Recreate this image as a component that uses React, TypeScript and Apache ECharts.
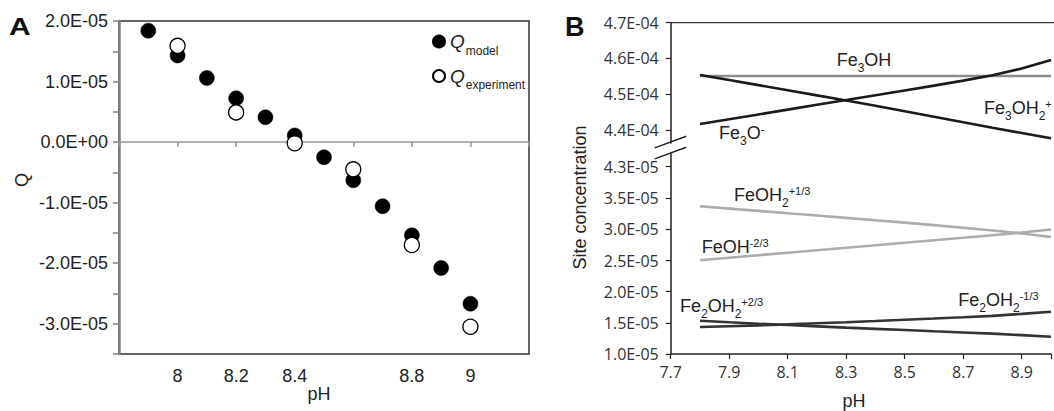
import React, { useEffect, useRef } from "react";
import * as echarts from "echarts";

// ---------- Panel A data ----------
const pHModel = [7.9, 8.0, 8.1, 8.2, 8.3, 8.4, 8.5, 8.6, 8.7, 8.8, 8.9, 9.0];
const qModel = [1.84e-5, 1.43e-5, 1.06e-5, 0.725e-5, 0.41e-5, 0.11e-5, -0.25e-5, -0.63e-5, -1.06e-5, -1.54e-5, -2.08e-5, -2.67e-5];
const pHExp = [8.0, 8.2, 8.4, 8.6, 8.8, 9.0];
const qExp = [1.59e-5, 0.49e-5, -0.02e-5, -0.45e-5, -1.7e-5, -3.05e-5];

// ---------- Panel B data (values in units of 1E-05) ----------
const pHB = [7.8, 7.9, 8.0, 8.1, 8.2, 8.3, 8.4, 8.5, 8.6, 8.7, 8.8, 8.9, 9.0];
const fe3OH_e5 = [45.51, 45.51, 45.51, 45.51, 45.51, 45.51, 45.51, 45.51, 45.51, 45.51, 45.51, 45.51, 45.51];
const fe3OH2plus_e5 = [45.536, 45.397, 45.254, 45.112, 44.969, 44.827, 44.676, 44.522, 44.369, 44.215, 44.064, 43.916, 43.768];
const fe3Ominus_e5 = [44.168, 44.302, 44.436, 44.57, 44.704, 44.838, 44.972, 45.106, 45.24, 45.38, 45.531, 45.718, 45.955];
const feOH2_e5 = [3.372, 3.335, 3.298, 3.261, 3.224, 3.186, 3.147, 3.109, 3.069, 3.027, 2.984, 2.936, 2.88];
const feOH_e5 = [2.506, 2.546, 2.587, 2.627, 2.667, 2.707, 2.747, 2.787, 2.827, 2.867, 2.907, 2.95, 2.998];
const fe2OH2plus_e5 = [1.534, 1.51, 1.487, 1.465, 1.444, 1.423, 1.404, 1.385, 1.365, 1.346, 1.327, 1.303, 1.277];
const fe2OH2minus_e5 = [1.433, 1.446, 1.46, 1.476, 1.494, 1.511, 1.53, 1.55, 1.569, 1.59, 1.612, 1.644, 1.678];
const bTickValues = [1.0e-5, 1.5e-5, 2.0e-5, 2.5e-5, 3.0e-5, 3.5e-5, 4.3e-5, 4.4e-4, 4.5e-4, 4.6e-4, 4.7e-4];

// ---------- broken-axis scale for panel B ----------
function toD(v: number): number {
  if (v >= 1e-4) return 224 + ((v - 4.4e-4) / 1e-5) * 35.77;
  if (v <= 3.5e-5) return ((v - 1e-5) / 1e-5) * 62.28;
  return 155.7 + ((v - 3.5e-5) / 0.8e-5) * 31.6;
}
const tickD = bTickValues.map(toD);
const B_H = Math.max(...tickD);

function sci(v: number): string {
  const s = v.toExponential(1);
  const [m, e] = s.split("e");
  const n = parseInt(e, 10);
  return m + "E" + (n < 0 ? "-" : "+") + String(Math.abs(n)).padStart(2, "0");
}

const FONT = "'Liberation Sans', Arial, Helvetica, sans-serif";
const TICKFONT_B = "'Open Sans', 'Liberation Sans', sans-serif";

// layout
const A_LEFT = 119, A_TOP = 21, A_W = 410, A_H = 333;
const B_LEFT = 670.7, B_TOP = 22.7;

const richB = {
  n: { fontSize: 18, fontFamily: FONT, color: "#222", verticalAlign: "middle" },
  sb: { fontSize: 12, fontFamily: FONT, color: "#222", padding: [16, 0, 0, 0], verticalAlign: "middle" },
  sp: { fontSize: 11, fontFamily: FONT, color: "#222", padding: [0, 0, 8, 0], verticalAlign: "middle" },
};

function bLabel(text: string, x: number, y: number) {
  return {
    type: "text",
    x,
    y,
    z: 10,
    style: { text, rich: richB, align: "left", verticalAlign: "middle", fill: "#222" },
  };
}

function lineSeries(name: string, vals_e5: number[], color: string) {
  return {
    type: "line",
    name,
    xAxisIndex: 1,
    yAxisIndex: 1,
    symbol: "none",
    lineStyle: { color, width: 2.6 },
    data: pHB.map((p, i) => [p, toD(vals_e5[i] * 1e-5)]),
    z: 3,
  };
}

// break marks on panel B axis
const breakY = B_TOP + (B_H - 205.6);
const bx = B_LEFT;

const option: any = {
  animation: false,
  backgroundColor: "#fff",
  textStyle: { fontFamily: FONT },
  grid: [
    { left: A_LEFT, top: A_TOP, width: A_W, height: A_H, show: true, borderColor: "#333", borderWidth: 1.5, backgroundColor: "transparent" },
    { left: B_LEFT, top: B_TOP, right: 0, height: B_H },
  ],
  legend: {
    orient: "vertical",
    left: 432,
    top: 32,
    padding: 0,
    itemWidth: 12,
    itemHeight: 12,
    itemGap: 10,
    data: [
      { name: "model", icon: "circle" },
      { name: "experiment", icon: "circle" },
    ],
    formatter: (n: string) => `{q|Q}{s|${n}}`,
    textStyle: {
      rich: {
        q: { fontSize: 19, fontStyle: "italic", fontFamily: FONT, color: "#222", verticalAlign: "middle" },
        s: { fontSize: 12, fontFamily: FONT, color: "#222", padding: [18, 0, 0, 1], verticalAlign: "middle" },
      },
    },
  },
  xAxis: [
    {
      gridIndex: 0,
      type: "value",
      min: 7.8,
      max: 9.2,
      interval: 0.2,
      axisLine: { onZero: true, lineStyle: { color: "#999", width: 1.5 } },
      axisTick: { show: true, length: 5, lineStyle: { color: "#999", width: 1.5 } },
      axisLabel: {
        fontSize: 18,
        color: "#222",
        margin: 13,
        formatter: (v: number) => {
          const r = Math.round(v * 10) / 10;
          if (r < 7.95 || r > 9.05 || Math.abs(r - 8.6) < 0.01) return "";
          return String(r);
        },
      },
      splitLine: { show: false },
    },
    {
      gridIndex: 1,
      type: "value",
      min: 7.7,
      max: 9.0,
      interval: 0.2,
      axisLine: { onZero: false, lineStyle: { color: "#222", width: 1.5 } },
      axisTick: { show: true, length: 5, lineStyle: { color: "#222", width: 1.2 } },
      axisLabel: {
        fontSize: 16,
        fontFamily: TICKFONT_B,
        color: "#333",
        margin: 10,
        formatter: (v: number) => (v > 8.95 ? "" : v.toFixed(1)),
      },
      splitLine: { show: false },
    },
  ],
  yAxis: [
    {
      gridIndex: 0,
      type: "value",
      min: -3.5e-5,
      max: 2e-5,
      interval: 5e-6,
      axisLine: { show: true, onZero: false, lineStyle: { color: "#808080", width: 2.5 } },
      axisTick: { show: true, length: 6, lineStyle: { color: "#808080", width: 1.5 } },
      axisLabel: {
        fontSize: 18,
        color: "#222",
        margin: 11,
        formatter: (v: number) => {
          const k = Math.round(v / 5e-6);
          if (k % 2 !== 0) return "";
          return sci(k * 5e-6);
        },
      },
      splitLine: { show: false },
    },
    {
      gridIndex: 1,
      type: "value",
      min: 0,
      max: B_H,
      axisLine: { show: true, onZero: false, lineStyle: { color: "#222", width: 1.5 } },
      axisTick: { show: true, length: 5, customValues: tickD, lineStyle: { color: "#222", width: 1.2 } },
      axisLabel: {
        customValues: tickD,
        showMaxLabel: true,
        showMinLabel: true,
        fontSize: 16,
        fontFamily: TICKFONT_B,
        color: "#333",
        margin: 12,
        formatter: (val: number) => {
          const i = tickD.findIndex((d) => Math.abs(d - val) < 0.5);
          return i >= 0 ? sci(bTickValues[i]) : "";
        },
      },
      splitLine: { show: false },
    },
  ],
  series: [
    {
      type: "scatter",
      name: "model",
      xAxisIndex: 0,
      yAxisIndex: 0,
      symbol: "circle",
      symbolSize: 15,
      itemStyle: { color: "#000", borderColor: "#000", borderWidth: 0.5, opacity: 1 },
      data: pHModel.map((p, i) => [p, qModel[i]]),
      z: 4,
    },
    {
      type: "scatter",
      name: "experiment",
      xAxisIndex: 0,
      yAxisIndex: 0,
      symbol: "circle",
      symbolSize: 15,
      itemStyle: { color: "#fff", borderColor: "#000", borderWidth: 1.3, opacity: 1 },
      data: pHExp.map((p, i) => [p, qExp[i]]),
      z: 5,
    },
    lineSeries("Fe3OH", fe3OH_e5, "#8c8c8c"),
    lineSeries("Fe3OH2+", fe3OH2plus_e5, "#1a1a1a"),
    lineSeries("Fe3O-", fe3Ominus_e5, "#1a1a1a"),
    lineSeries("FeOH2+1/3", feOH2_e5, "#acacac"),
    lineSeries("FeOH-2/3", feOH_e5, "#acacac"),
    lineSeries("Fe2OH2+2/3", fe2OH2plus_e5, "#333333"),
    lineSeries("Fe2OH2-1/3", fe2OH2minus_e5, "#333333"),
  ],
  graphic: [
    { type: "text", x: 9, y: 27, z: 10, scaleX: 1.25, style: { text: "A", fontSize: 24, fontWeight: "bold", fontFamily: FONT, fill: "#111", align: "left", verticalAlign: "middle" } },
    { type: "text", x: 565, y: 27, z: 10, style: { text: "B", fontSize: 27, fontWeight: "bold", fontFamily: FONT, fill: "#111", align: "left", verticalAlign: "middle" } },
    { type: "text", x: 21.5, y: 180, z: 10, rotation: Math.PI / 2, style: { text: "Q", fontSize: 18, fontFamily: FONT, fill: "#222", align: "center", verticalAlign: "middle" } },
    { type: "text", x: 319, y: 394, z: 10, style: { text: "pH", fontSize: 18, fontFamily: FONT, fill: "#222", align: "center", verticalAlign: "middle" } },
    { type: "text", x: 854, y: 401, z: 10, style: { text: "pH", fontSize: 18, fontFamily: FONT, fill: "#222", align: "center", verticalAlign: "middle" } },
    { type: "text", x: 580, y: 197.5, z: 10, rotation: Math.PI / 2, style: { text: "Site concentration", fontSize: 18, fontFamily: FONT, fill: "#222", align: "center", verticalAlign: "middle" } },
    // top border of panel B
    { type: "line", z: 5, shape: { x1: B_LEFT, y1: B_TOP, x2: 1054, y2: B_TOP }, style: { stroke: "#333", lineWidth: 1.3 } },
    // axis break
    {
      type: "polygon",
      z: 20,
      shape: { points: [[bx - 15, breakY + 1], [bx + 15, breakY - 10.5], [bx + 15, breakY - 1], [bx - 15, breakY + 10.5]] },
      style: { fill: "#fff" },
    },
    { type: "line", z: 21, shape: { x1: bx - 16, y1: breakY - 0.5, x2: bx + 15.5, y2: breakY - 12.2 }, style: { stroke: "#222", lineWidth: 1.5 } },
    { type: "line", z: 21, shape: { x1: bx - 16, y1: breakY + 10.5, x2: bx + 15.5, y2: breakY - 1.2 }, style: { stroke: "#222", lineWidth: 1.5 } },
    // series labels in panel B
    bLabel("{n|Fe}{sb|3}{n|OH}", 836.7, 60),
    bLabel("{n|Fe}{sb|3}{n|OH}{sb|2}{sp|+}", 984, 108.3),
    bLabel("{n|Fe}{sb|3}{n|O}{sp|-}", 719, 132.5),
    bLabel("{n|FeOH}{sb|2}{sp|+1/3}", 734, 195),
    bLabel("{n|FeOH}{sp|-2/3}", 701.7, 246.7),
    bLabel("{n|Fe}{sb|2}{n|OH}{sb|2}{sp|+2/3}", 680, 305.7),
    bLabel("{n|Fe}{sb|2}{n|OH}{sb|2}{sp|-1/3}", 958.3, 300),
  ],
};

export default function App() {
  const ref = useRef<HTMLDivElement>(null);
  useEffect(() => {
    const chart = echarts.init(ref.current!, null, { renderer: "svg" });
    chart.setOption(option);
    return () => chart.dispose();
  }, []);
  return (
    <div
      ref={ref}
      style={{ position: "fixed", left: 0, top: 0, width: 1054, height: 411, background: "#fff" }}
    />
  );
}
